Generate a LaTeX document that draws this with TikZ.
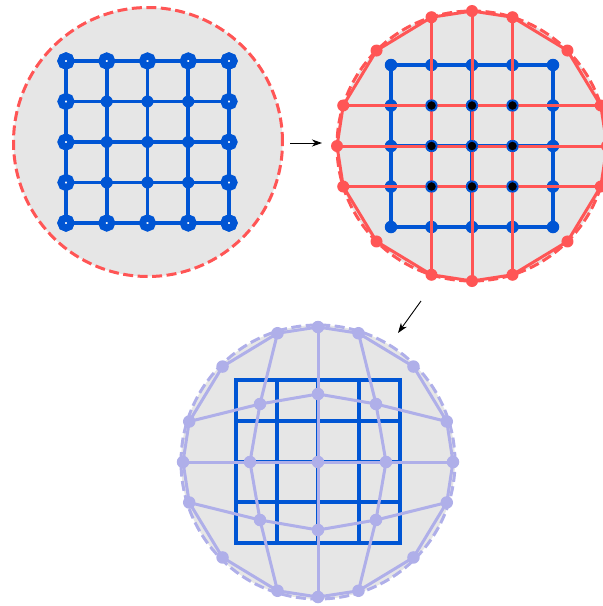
\documentclass[tikz,border=0pt]{standalone}
\usetikzlibrary{arrows.meta, calc}

\definecolor{meshred}{HTML}{FF5555}
\definecolor{gridblue}{HTML}{0055D4}
\definecolor{meshlav}{HTML}{AFAFE9}
\definecolor{diskgray}{HTML}{E6E6E6}
\tikzstyle{arrow} = [-{Stealth[length=10pt,width=7pt,inset=3pt]}, line width=0.9pt]

\begin{document}
\begin{tikzpicture}[
    x=1pt, y=-1pt,
    disk/.style={circle, fill=diskgray, line width=3pt, dash pattern=on 10pt off 4.5pt, inner sep=0pt, minimum size=#1},
    gridline/.style={draw=gridblue, line width=3.8pt},
    redline/.style={draw=meshred, line width=3pt, line join=round},
    lavline/.style={draw=meshlav, line width=3pt, line join=round},
    rimdot/.style={circle, draw=gridblue, fill=white, line width=7.1pt, inner sep=0pt, minimum size=9.9pt},
    innerdot/.style={circle, fill=gridblue, inner sep=0pt, minimum size=12pt},
    bluedot/.style={circle, fill=gridblue, inner sep=0pt, minimum size=12.5pt},
    blackdot/.style={circle, fill=black, draw=gridblue, line width=1.6pt, inner sep=0pt, minimum size=10.5pt},
    reddot/.style={circle, fill=meshred, inner sep=0pt, minimum size=12pt},
    lavdot/.style={circle, fill=meshlav, inner sep=0pt, minimum size=12.5pt}
]
    \useasboundingbox (0,0) rectangle (603,606);

    % Disks
    \node[disk=269pt, draw=meshred] (leftdisk) at (148,142) {};
    \node[disk=270pt, draw=meshred] (rightdisk) at (472,146) {};
    \node[disk=274pt, draw=meshlav] (lowdisk) at (318,462) {};

    % Step 1: regular grid
    \foreach \i in {0,...,4}
        \foreach \j in {0,...,4}
            \coordinate (a\i\j) at ({66+40.75*\i},{61+40.5*\j});
    \foreach \k in {0,...,4} {
        \draw[gridline] (a\k0) -- (a\k4);
        \draw[gridline] (a0\k) -- (a4\k);
    }
    \foreach \i in {1,2,3}
        \foreach \j in {1,2,3}
            \node[innerdot] (da\i\j) at (a\i\j) {};
    \foreach \k in {0,...,4} {
        \node[rimdot] (ta\k) at (a\k0) {};
        \node[rimdot] (ba\k) at (a\k4) {};
        \node[rimdot] (la\k) at (a0\k) {};
        \node[rimdot] (ra\k) at (a4\k) {};
    }

    % Step 2: grid with circular mesh
    \foreach \i in {0,...,4}
        \foreach \j in {0,...,4}
            \coordinate (b\i\j) at ({391+40.5*\i},{65+40.5*\j});
    \foreach \k in {0,...,4} {
        \draw[gridline] (b\k0) -- (b\k4);
        \draw[gridline] (b0\k) -- (b4\k);
    }
    \foreach \i in {0,...,4}
        \foreach \j in {0,...,4}
            \node[bluedot] (db\i\j) at (b\i\j) {};
    \foreach \a [count=\n] in {0,17.46,45,72.54,90,107.46,135,162.54,180,197.46,225,252.54,270,287.46,315,342.54} {
        \coordinate (p\n) at ($(rightdisk.center)+(\a:135)$);
        \coordinate (s\n) at ($(lowdisk.center)+(\a:135)$);
    }
    \draw[redline] (p1) \foreach \n in {2,...,16} {-- (p\n)} -- cycle;
    \draw[redline] (p12) -- (p6);
    \draw[redline] (p13) -- (p5);
    \draw[redline] (p14) -- (p4);
    \draw[redline] (p10) -- (p16);
    \draw[redline] (p9) -- (p1);
    \draw[redline] (p8) -- (p2);
    \foreach \n in {1,...,16}
        \node[reddot] (dp\n) at (p\n) {};
    \foreach \i in {1,2,3}
        \foreach \j in {1,2,3}
            \node[blackdot] (kb\i\j) at (b\i\j) {};

    % Step 3: deformed mesh over grid
    \foreach \i in {0,...,4}
        \foreach \j in {0,...,4}
            \coordinate (c\i\j) at ({236+41*\i},{380+40.75*\j});
    \foreach \k in {0,...,4} {
        \draw[gridline, line cap=rect] (c\k0) -- (c\k4);
        \draw[gridline, line cap=rect] (c0\k) -- (c4\k);
    }
    \coordinate (q11) at ($(lowdisk.center)+(-58,-58)$);
    \coordinate (q21) at ($(lowdisk.center)+(0,-68)$);
    \coordinate (q31) at ($(lowdisk.center)+(58,-58)$);
    \coordinate (q12) at ($(lowdisk.center)+(-68,0)$);
    \coordinate (q22) at (lowdisk.center);
    \coordinate (q32) at ($(lowdisk.center)+(68,0)$);
    \coordinate (q13) at ($(lowdisk.center)+(-58,58)$);
    \coordinate (q23) at ($(lowdisk.center)+(0,68)$);
    \coordinate (q33) at ($(lowdisk.center)+(58,58)$);
    \draw[lavline] (s1) \foreach \n in {2,...,16} {-- (s\n)} -- cycle;
    \draw[lavline] (s12) -- (q11) -- (q12) -- (q13) -- (s6);
    \draw[lavline] (s13) -- (q21) -- (q22) -- (q23) -- (s5);
    \draw[lavline] (s14) -- (q31) -- (q32) -- (q33) -- (s4);
    \draw[lavline] (s10) -- (q11) -- (q21) -- (q31) -- (s16);
    \draw[lavline] (s9) -- (q12) -- (q22) -- (q32) -- (s1);
    \draw[lavline] (s8) -- (q13) -- (q23) -- (q33) -- (s2);
    \foreach \n in {1,...,16}
        \node[lavdot] (ds\n) at (s\n) {};
    \foreach \i in {1,2,3}
        \foreach \j in {1,2,3}
            \node[lavdot] (dq\i\j) at (q\i\j) {};

    % Arrows
    \coordinate (arrAstart) at (290,143);
    \coordinate (arrAend) at (322,143);
    \coordinate (arrBstart) at (421,301);
    \coordinate (arrBend) at (398,333);
    \draw[arrow] (arrAstart) -- (arrAend);
    \draw[arrow] (arrBstart) -- (arrBend);

\end{tikzpicture}
\end{document}
